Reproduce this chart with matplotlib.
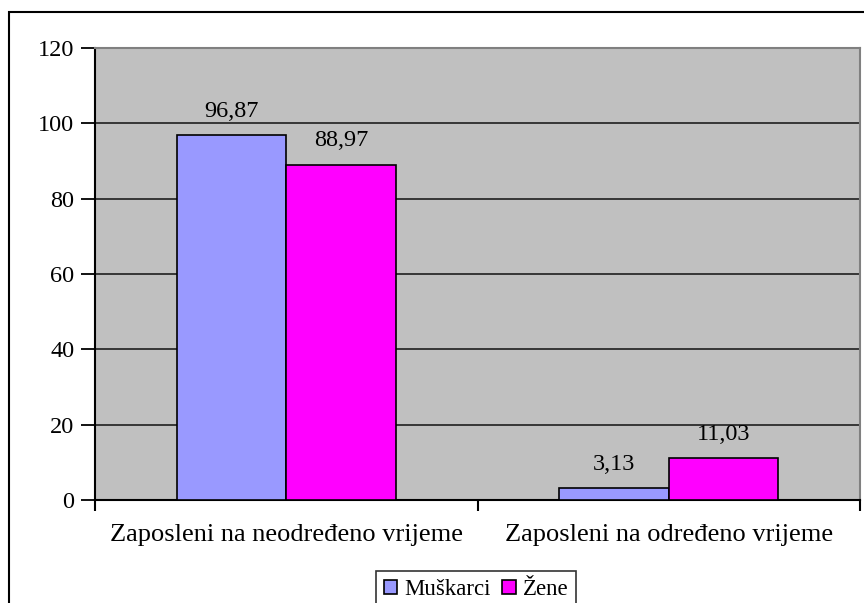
import numpy as np
import matplotlib
matplotlib.use("Agg")
import matplotlib.pyplot as plt
from matplotlib.patches import Rectangle

# data
categories = ["Zaposleni na neodređeno vrijeme", "Zaposleni na određeno vrijeme"]
muskarci = [96.87, 3.13]
zene = [88.97, 11.03]
series_names = ["Muškarci", "Žene"]
y_ticks = [0, 20, 40, 60, 80, 100, 120]

plt.rcParams["font.family"] = ["Liberation Serif", "DejaVu Serif"]
fs = 17.5

fig = plt.figure(figsize=(8.64, 6.03), dpi=100)
ax = fig.add_axes([95 / 864, 1 - 500 / 603, 765 / 864, 452 / 603])

# outer chart border (right/bottom fall outside the image)
fig.patches.append(Rectangle((9 / 864, -0.05), 1.1, 1 - 12 / 603 + 0.05,
                             transform=fig.transFigure, fill=False,
                             edgecolor="black", linewidth=1.5, zorder=0))

x = np.arange(len(categories))
w = 0.2857
b1 = ax.bar(x - w / 2, muskarci, w, color="#9999FF", edgecolor="black",
            linewidth=1.2, label=series_names[0], zorder=3)
b2 = ax.bar(x + w / 2, zene, w, color="#FF00FF", edgecolor="black",
            linewidth=1.2, label=series_names[1], zorder=3)

for bars, vals in [(b1, muskarci), (b2, zene)]:
    for r, v in zip(bars, vals):
        ax.text(r.get_x() + r.get_width() / 2, v + 3.6, ("%.2f" % v).replace(".", ","),
                ha="center", va="bottom", fontsize=fs)

ax.set_facecolor("#C0C0C0")
ax.set_xlim(-0.5, 1.5)
ax.set_ylim(0, 120)
ax.set_yticks(y_ticks)
ax.yaxis.grid(True, color="#111111", linewidth=1.1, zorder=0)
ax.set_axisbelow(True)

ax.set_xticks(x)
ax.set_xticklabels(categories, fontsize=19)
ax.tick_params(axis="x", length=0, pad=17)
ax.set_xticks([-0.5, 0.5, 1.5], minor=True)
ax.tick_params(axis="x", which="minor", length=8, width=1.5, color="black")
ax.tick_params(axis="y", length=10, width=1.3, labelsize=fs, pad=5)

for s in ["left", "bottom"]:
    ax.spines[s].set_color("black")
    ax.spines[s].set_linewidth(1.5)
for s in ["top", "right"]:
    ax.spines[s].set_color("#808080")
    ax.spines[s].set_linewidth(1.5)

leg = fig.legend(handles=[b1, b2], loc="upper center", bbox_to_anchor=(476 / 864, 1 - 571 / 603),
                 ncol=2, frameon=True, fancybox=False, edgecolor="black", fontsize=16.5,
                 handlelength=0.6, handleheight=0.6, handletextpad=0.3, columnspacing=0.5,
                 borderpad=0.35, borderaxespad=0)
leg.get_frame().set_linewidth(1.2)

fig.savefig("out.png", dpi=100)
